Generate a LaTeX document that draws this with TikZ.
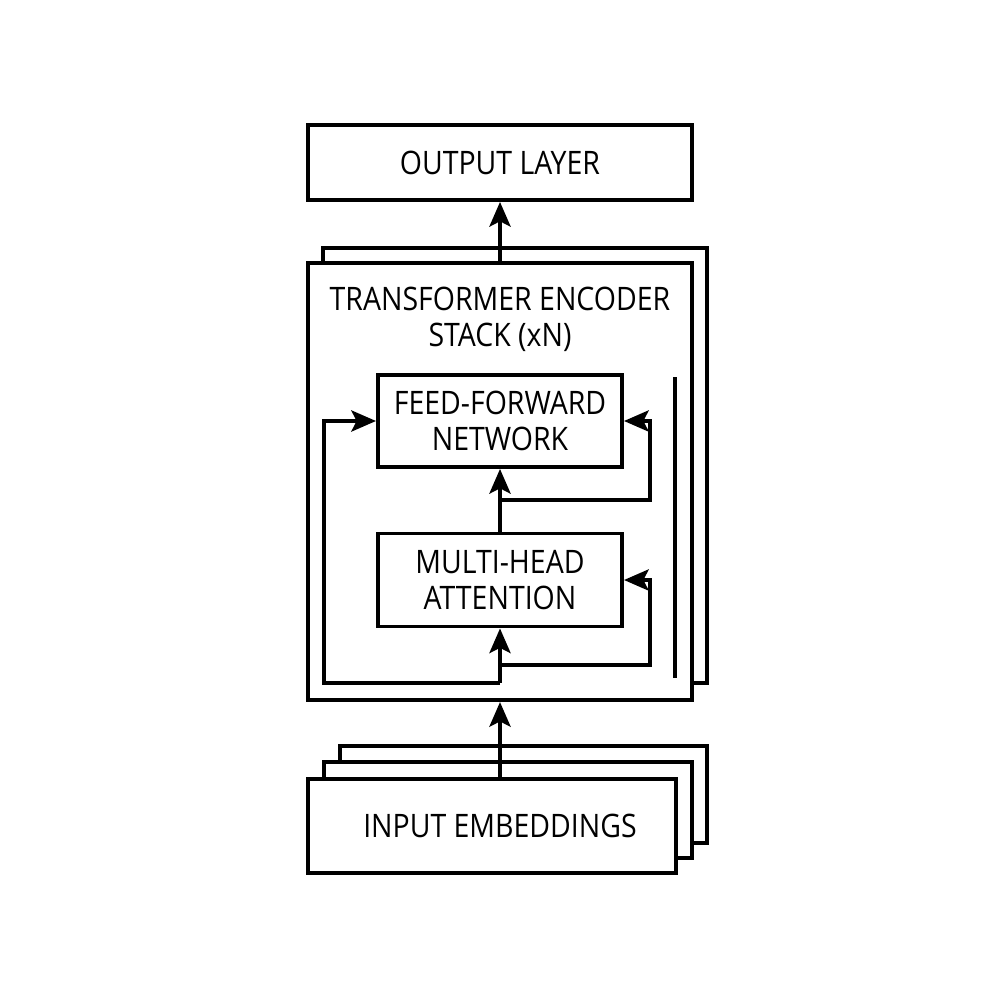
\documentclass[tikz,border=0pt]{standalone}
\usepackage{fontspec}
\setmainfont[FakeStretch=0.88]{Open Sans}
\usetikzlibrary{arrows.meta}
\begin{document}
\begin{tikzpicture}[x=0.01cm,y=-0.01cm,
  lw/.style={line width=1.1pt},
  box/.style={draw, fill=white, lw, inner sep=0pt, align=center, font=\fontsize{9.2}{10.4}\selectfont},
  sheet/.style={draw, fill=white, lw},
  arr/.style={lw, -{Stealth[length=7pt,width=6pt,inset=1.5pt]}},
  conn/.style={lw}]
\useasboundingbox[fill=white] (0,0) rectangle (1000,1000);
% output layer
\node[box, minimum width=3.84cm, minimum height=0.75cm] (out) at (500,162.5) {OUTPUT LAYER};
% stack
\draw[sheet] (323,248) rectangle (707,683);
\node[box, minimum width=3.84cm, minimum height=4.37cm] (stack) at (500,481.5) {};
\node[font=\fontsize{9.2}{10.3}\selectfont, align=center, inner sep=0pt] (title) at (500,319) {TRANSFORMER ENCODER\\STACK (xN)};
\node[box, minimum width=2.44cm, minimum height=0.92cm] (ffn) at (500,421) {FEED-FORWARD\\NETWORK};
\node[box, minimum width=2.44cm, minimum height=0.93cm] (mha) at (500,580) {MULTI-HEAD\\ATTENTION};
\coordinate (v1) at (675,377);
\coordinate (v2) at (675,678);
\draw[conn] (v1) -- (v2);
% input embeddings
\draw[sheet] (340,746) rectangle (707,843);
\draw[sheet] (324,762) rectangle (692,858);
\node[box, minimum width=3.68cm, minimum height=0.94cm] (inp) at (492,826) {\hspace*{0.16cm}INPUT EMBEDDINGS};
% junctions
\coordinate (j1) at (500,683);
\coordinate (l1) at (324,683);
\coordinate (j2) at (500,665);
\coordinate (r2) at (650,665);
\coordinate (j3) at (500,500);
\coordinate (r1) at (650,500);
\coordinate (inT) at (500,779);
% connectors
\draw[arr] (inT) -- (stack.south);
\draw[arr] (j1) -- (mha.south);
\draw[arr] (mha.north) -- (ffn.south);
\draw[arr] (stack.north) -- (out.south);
\draw[arr] (j1) -- (l1) |- (ffn.west);
\draw[arr] (j3) -- (r1) |- (ffn.east);
\draw[arr] (j2) -- (r2) |- (mha.east);
\end{tikzpicture}
\end{document}
